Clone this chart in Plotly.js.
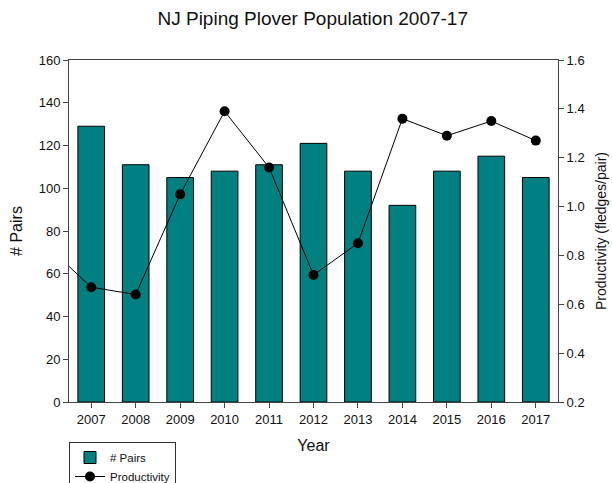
<!DOCTYPE html>
<html>
<head>
<meta charset="utf-8">
<script src="https://cdn.plot.ly/plotly-3.0.1.min.js"></script>
<style>html,body{margin:0;padding:0;background:#fff;}#chart{width:612px;height:483px;}</style>
</head>
<body>
<div id="chart"></div>
<script>
const years = [2007, 2008, 2009, 2010, 2011, 2012, 2013, 2014, 2015, 2016, 2017];
const pairs = [129, 111, 105, 108, 111, 121, 108, 92, 108, 115, 105];
const prodYears = [2006, 2007, 2008, 2009, 2010, 2011, 2012, 2013, 2014, 2015, 2016, 2017];
const productivity = [0.84, 0.67, 0.64, 1.05, 1.39, 1.16, 0.72, 0.85, 1.36, 1.29, 1.35, 1.27];
const leftTicks = [0, 20, 40, 60, 80, 100, 120, 140, 160];
const rightTicks = [0.2, 0.4, 0.6, 0.8, 1.0, 1.2, 1.4, 1.6];

const font = 'Liberation Sans, Arial, sans-serif';
const axisColor = '#444';

const traces = [
  {
    type: 'bar', x: years, y: pairs, name: '# Pairs', width: 0.6,
    marker: {color: '#008080', line: {color: '#000', width: 1}},
    yaxis: 'y'
  },
  {
    type: 'scatter', mode: 'lines+markers', x: prodYears, y: productivity, name: 'Productivity',
    line: {color: '#000', width: 1},
    marker: {color: '#000', size: 10},
    yaxis: 'y2', cliponaxis: true
  }
];

const layout = {
  width: 612, height: 483,
  margin: {l: 69, r: 54, t: 60, b: 81, autoexpand: false},
  paper_bgcolor: '#fff', plot_bgcolor: '#fff',
  font: {family: font, size: 13, color: '#111'},
  title: {text: 'NJ Piping Plover Population 2007-17', font: {family: font, size: 19, color: '#111'},
          x: 0.511, xanchor: 'center', y: 1 - 18/483, yanchor: 'middle'},
  showlegend: true,
  legend: {x: 0, xanchor: 'left', y: -40/342, yanchor: 'top',
           bordercolor: '#333', borderwidth: 1,
           font: {family: font, size: 11.5, color: '#111'}, bgcolor: '#fff',
           tracegroupgap: 0, itemwidth: 30},
  bargap: 0.4,
  xaxis: {
    range: [2006.5, 2017.5], tickvals: years, ticktext: years.map(String),
    ticks: 'outside', ticklen: 5, tickcolor: axisColor,
    showline: true, linecolor: axisColor, linewidth: 1, mirror: true,
    showgrid: false, zeroline: false,
    title: {text: 'Year', font: {family: font, size: 16}, standoff: 14},
    tickfont: {size: 13}
  },
  yaxis: {
    range: [0, 160], tickvals: leftTicks,
    ticks: 'outside', ticklen: 5, tickcolor: axisColor,
    showline: true, linecolor: axisColor, linewidth: 1,
    showgrid: false, zeroline: false,
    title: {text: '# Pairs', font: {family: font, size: 16}, standoff: 12},
    tickfont: {size: 13}
  },
  yaxis2: {
    range: [0.2, 1.6], tickvals: rightTicks, tickformat: '.1f',
    overlaying: 'y', side: 'right',
    ticks: 'outside', ticklen: 5, tickcolor: axisColor,
    showline: true, linecolor: axisColor, linewidth: 1,
    showgrid: false, zeroline: false,
    title: {text: 'Productivity (fledges/pair)', font: {family: font, size: 14}, standoff: 12},
    tickfont: {size: 13}
  }
};

Plotly.newPlot('chart', traces, layout, {displayModeBar: false, staticPlot: true});
</script>
</body>
</html>
